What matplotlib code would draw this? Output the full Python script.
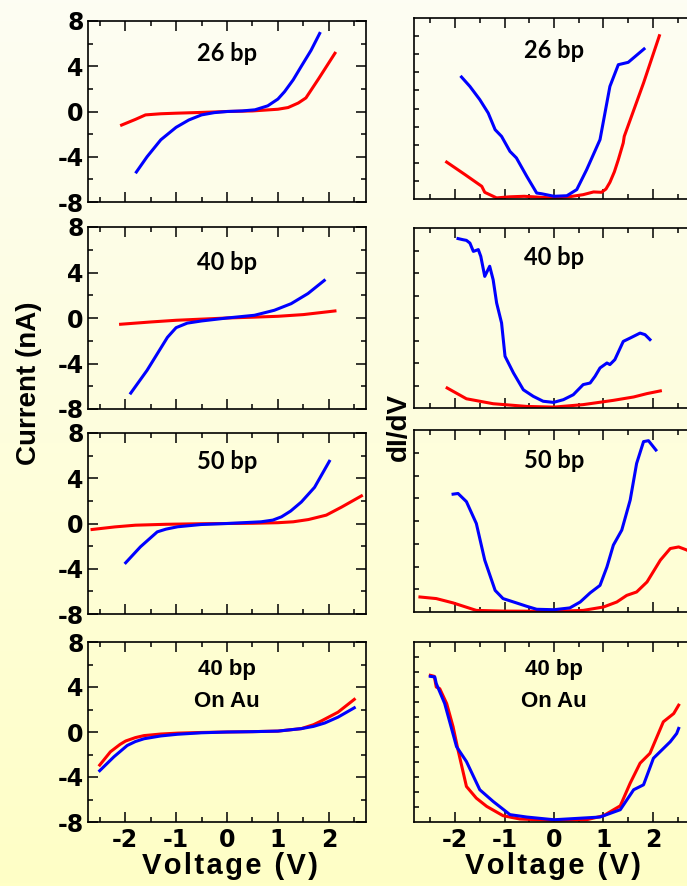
import numpy as np
import matplotlib.pyplot as plt
from matplotlib.ticker import MultipleLocator

plt.rcParams['font.family'] = ['Liberation Sans', 'DejaVu Sans']
plt.rcParams['font.weight'] = 'bold'
plt.rcParams['axes.unicode_minus'] = False

# ---- I-V curves (Current, nA) ----
iv26_red_v = [-2.07, -1.8, -1.6, -1.3, -1.0, -0.5, 0, 0.5, 1.0, 1.2, 1.4, 1.55, 1.8, 2.12]
iv26_red_i = [-1.2, -0.7, -0.3, -0.2, -0.15, -0.08, 0, 0.05, 0.2, 0.35, 0.75, 1.2, 2.9, 5.15]
iv26_blue_v = [-1.78, -1.57, -1.3, -1.0, -0.75, -0.5, -0.25, 0, 0.3, 0.55, 0.8, 1.0, 1.13, 1.3, 1.46, 1.65, 1.82]
iv26_blue_i = [-5.35, -4.0, -2.5, -1.4, -0.75, -0.3, -0.1, 0, 0.05, 0.15, 0.5, 1.1, 1.75, 2.8, 4.0, 5.4, 6.9]

iv40_red_v = [-2.09, -1.5, -1.0, -0.5, 0, 0.5, 1.0, 1.5, 2.12]
iv40_red_i = [-0.55, -0.35, -0.2, -0.1, 0, 0.07, 0.15, 0.3, 0.62]
iv40_blue_v = [-1.89, -1.57, -1.37, -1.17, -1.0, -0.78, -0.5, 0, 0.54, 0.93, 1.26, 1.59, 1.91]
iv40_blue_i = [-6.6, -4.6, -3.15, -1.7, -0.85, -0.45, -0.26, 0, 0.24, 0.68, 1.26, 2.15, 3.3]

iv50_red_v = [-2.65, -2.2, -1.8, -1.2, -0.5, 0, 0.5, 1.0, 1.3, 1.6, 1.95, 2.25, 2.64]
iv50_red_i = [-0.53, -0.3, -0.15, -0.07, -0.02, 0, 0.02, 0.07, 0.15, 0.35, 0.74, 1.45, 2.44]
iv50_blue_v = [-1.99, -1.7, -1.37, -1.2, -0.97, -0.51, 0, 0.67, 0.9, 1.07, 1.25, 1.46, 1.72, 2.01]
iv50_blue_i = [-3.47, -2.06, -0.74, -0.5, -0.29, -0.09, 0, 0.15, 0.3, 0.59, 1.1, 1.9, 3.2, 5.5]

ivau_red_v = [-2.5, -2.29, -2.1, -1.99, -1.8, -1.63, -1.3, -0.97, -0.5, 0, 0.5, 1.0, 1.46, 1.7, 1.86, 2.18, 2.5]
ivau_red_i = [-2.94, -1.76, -1.1, -0.8, -0.5, -0.32, -0.18, -0.1, -0.04, 0, 0.03, 0.08, 0.3, 0.65, 1.0, 1.76, 2.9]
ivau_blue_v = [-2.5, -2.22, -1.96, -1.8, -1.63, -1.3, -0.97, -0.5, 0, 0.5, 1.0, 1.46, 1.7, 1.92, 2.18, 2.5]
ivau_blue_i = [-3.44, -2.2, -1.2, -0.85, -0.6, -0.35, -0.2, -0.07, 0, 0.03, 0.08, 0.3, 0.5, 0.8, 1.32, 2.15]

# ---- dI/dV curves (arbitrary units) ----
di26_blue_v = [-1.87, -1.70, -1.50, -1.33, -1.19, -1.06, -0.89, -0.76, -0.55, -0.35, -0.25, 0, 0.26, 0.46,
               0.66, 0.93, 1.13, 1.30, 1.50, 1.82]
di26_blue_y = [6.74, 6.22, 5.49, 4.75, 3.83, 3.46, 2.63, 2.27, 1.25, 0.33, 0.29, 0.15, 0.18, 0.52,
               1.62, 3.28, 6.22, 7.42, 7.55, 8.29]
di26_red_v = [-2.17, -1.8, -1.46, -1.40, -1.16, -0.9, -0.6, -0.3, 0, 0.3, 0.59, 0.80, 0.96, 1.05,
              1.13, 1.22, 1.30, 1.40, 1.42, 1.81, 2.13]
di26_red_y = [2.04, 1.35, 0.7, 0.37, 0.06, 0.12, 0.15, 0.1, 0.05, 0.12, 0.24, 0.39, 0.37, 0.55,
              0.92, 1.5, 2.17, 3.1, 3.46, 6.41, 9.02]

di40_blue_v = [-1.94, -1.84, -1.77, -1.70, -1.63, -1.53, -1.48, -1.40, -1.30, -1.23, -1.16, -1.06, -0.99,
               -0.82, -0.62, -0.42, -0.22, -0.01, 0.19, 0.39, 0.59, 0.73, 0.83, 0.93, 1.07, 1.13, 1.23,
               1.40, 1.54, 1.74, 1.84, 1.94]
di40_blue_y = [7.53, 7.48, 7.45, 7.33, 6.96, 7.04, 6.74, 5.85, 6.3, 5.7, 4.67, 3.78, 2.3,
               1.56, 0.81, 0.52, 0.3, 0.25, 0.37, 0.59, 1.04, 1.11, 1.41, 1.78, 2.0, 1.93, 2.15,
               2.96, 3.11, 3.33, 3.26, 3.04]
di40_red_v = [-2.16, -1.77, -1.23, -0.55, 0, 0.59, 1.2, 1.61, 1.88, 2.15]
di40_red_y = [0.89, 0.41, 0.19, 0.07, 0.04, 0.15, 0.34, 0.49, 0.64, 0.76]

di50_blue_v = [-2.04, -1.94, -1.77, -1.57, -1.40, -1.19, -1.03, -0.76, -0.55, -0.35, 0, 0.32, 0.53,
               0.73, 0.93, 1.07, 1.20, 1.37, 1.54, 1.67, 1.81, 1.91, 2.06]
di50_blue_y = [5.18, 5.21, 4.85, 3.89, 2.28, 0.95, 0.59, 0.40, 0.25, 0.12, 0.1, 0.18, 0.44,
               0.84, 1.17, 1.98, 2.94, 3.6, 4.92, 6.53, 7.49, 7.53, 7.12]
di50_red_v = [-2.71, -2.38, -2.04, -1.57, -1.03, 0, 0.59, 1.0, 1.27, 1.47, 1.67, 1.88, 2.15, 2.35,
              2.52, 2.69, 2.85]
di50_red_y = [0.66, 0.59, 0.40, 0.07, 0.04, 0.03, 0.07, 0.22, 0.44, 0.73, 0.88, 1.32, 2.28, 2.79,
              2.86, 2.72, 2.45]

diau_red_v = [-2.50, -2.42, -2.38, -2.31, -2.17, -2.04, -1.94, -1.77, -1.57, -1.36, -1.03, -0.69, 0,
              0.66, 1.0, 1.34, 1.54, 1.74, 1.94, 2.21, 2.42, 2.52]
diau_red_y = [9.78, 9.71, 9.0, 8.89, 7.9, 6.35, 4.8, 2.37, 1.59, 1.04, 0.42, 0.2, 0.11,
              0.15, 0.42, 1.08, 2.59, 3.92, 4.58, 6.68, 7.23, 7.79]
diau_blue_v = [-2.50, -2.41, -2.38, -2.21, -1.97, -1.77, -1.50, -1.23, -0.89, -0.55, 0, 0.93, 1.34,
               1.61, 1.81, 2.01, 2.35, 2.48, 2.52]
diau_blue_y = [9.71, 9.67, 9.23, 7.9, 5.02, 4.03, 2.15, 1.37, 0.49, 0.33, 0.15, 0.33, 0.82,
               2.15, 2.48, 4.25, 5.35, 5.9, 6.24]

iv_sets = [
    (iv26_red_v, iv26_red_i, iv26_blue_v, iv26_blue_i, ["26 bp"]),
    (iv40_red_v, iv40_red_i, iv40_blue_v, iv40_blue_i, ["40 bp"]),
    (iv50_red_v, iv50_red_i, iv50_blue_v, iv50_blue_i, ["50 bp"]),
    (ivau_red_v, ivau_red_i, ivau_blue_v, ivau_blue_i, ["40 bp", "On Au"]),
]
di_sets = [
    (di26_red_v, di26_red_y, di26_blue_v, di26_blue_y, ["26 bp"], 10),
    (di40_red_v, di40_red_y, di40_blue_v, di40_blue_y, ["40 bp"], 8),
    (di50_red_v, di50_red_y, di50_blue_v, di50_blue_y, ["50 bp"], 8),
    (diau_red_v, diau_red_y, diau_blue_v, diau_blue_y, ["40 bp", "On Au"], 12),
]

W, H = 687, 886
fig = plt.figure(figsize=(W / 100, H / 100), dpi=100)

# yellowish vertical gradient background
bg = fig.add_axes([0, 0, 1, 1], zorder=-10)
top_c = np.array([253, 253, 243]) / 255
bot_c = np.array([255, 255, 198]) / 255
grad = top_c + np.linspace(0, 1, 256)[:, None] * (bot_c - top_c)
bg.imshow(grad[:, None, :], aspect='auto', extent=[0, 1, 0, 1])
bg.axis('off')


def px_axes(x0, x1, y0, y1):
    return fig.add_axes([x0 / W, 1 - y1 / H, (x1 - x0) / W, (y1 - y0) / H])


def bold_ticklabels(ax, size):
    for lab in ax.get_xticklabels() + ax.get_yticklabels():
        lab.set_family(['DejaVu Sans'])
        lab.set_fontweight('bold')
        lab.set_fontsize(size)


RED, BLUE = "#ff0000", "#0000ff"
LW = 2.2

left_boxes = [(21, 202), (227, 409), (433, 614), (642, 822)]
right_boxes = [(18, 199), (228, 408), (430, 612), (642, 822)]
left_label_y = [[0.818], [0.807], [0.845], [0.845, 0.668]]
right_label_y = [[0.823], [0.834], [0.834], [0.85, 0.667]]

for k, (rv, ri, bv, bi, labels) in enumerate(iv_sets):
    y0, y1 = left_boxes[k]
    ax = px_axes(88, 366, y0, y1)
    ax.set_facecolor("none")
    ax.plot(rv, ri, color=RED, lw=LW)
    ax.plot(bv, bi, color=BLUE, lw=LW)
    ax.set_xlim(-2.73, 2.73)
    ax.set_ylim(-8, 8)
    ax.set_yticks([-8, -4, 0, 4, 8])
    ax.yaxis.set_minor_locator(MultipleLocator(2))
    ax.xaxis.set_major_locator(MultipleLocator(1))
    ax.xaxis.set_minor_locator(MultipleLocator(0.5))
    ax.tick_params(which='both', direction='in', top=True, right=True, width=1.1)
    ax.tick_params(which='major', length=7)
    ax.tick_params(which='minor', length=3.5)
    ax.tick_params(axis='y', pad=3)
    ax.tick_params(axis='x', pad=4, labelbottom=(k == 3))
    bold_ticklabels(ax, 17)
    for s in ax.spines.values():
        s.set_linewidth(1.2)
    if k == 3:
        fam = ['Liberation Sans', 'DejaVu Sans']
        fs = 16
    else:
        fam = ['Lato', 'DejaVu Sans']
        fs = 17
    for txt, yy in zip(labels, left_label_y[k]):
        ax.text(0, yy, txt, transform=ax.get_xaxis_transform(), ha='center', va='center',
                fontsize=fs, fontweight='bold', family=fam)

for k, (rv, ry, bv, by, labels, ny) in enumerate(di_sets):
    y0, y1 = right_boxes[k]
    ax = px_axes(414, 694, y0, y1)
    ax.set_facecolor("none")
    ax.plot(rv, ry, color=RED, lw=LW)
    ax.plot(bv, by, color=BLUE, lw=LW)
    ax.set_xlim(-2.83, 2.83)
    ax.set_ylim(0, ny)
    ax.set_yticks(np.arange(1, ny))
    ax.xaxis.set_major_locator(MultipleLocator(1))
    ax.xaxis.set_minor_locator(MultipleLocator(0.5))
    ax.tick_params(which='both', direction='in', top=True, width=1.1)
    ax.tick_params(axis='x', which='major', length=7)
    ax.tick_params(axis='x', which='minor', length=3.5)
    ax.tick_params(axis='y', length=3.5, labelleft=False)
    ax.tick_params(axis='x', pad=4, labelbottom=(k == 3))
    bold_ticklabels(ax, 17)
    for s in ax.spines.values():
        s.set_linewidth(1.2)
    if k == 3:
        fam = ['Liberation Sans', 'DejaVu Sans']
        fs = 16
    else:
        fam = ['Lato', 'DejaVu Sans']
        fs = 17
    for txt, yy in zip(labels, right_label_y[k]):
        ax.text(0, yy, txt, transform=ax.get_xaxis_transform(), ha='center', va='center',
                fontsize=fs, fontweight='bold', family=fam)

# axis titles (letter-spaced voltage label)
hs = "\u200a"
volt = hs.join("Voltage") + " " + hs + hs + "(" + hs + "V" + hs + ")"
fig.text(29 / W, 1 - 383 / H, "Current (nA)", rotation=90, ha='center', va='center',
         fontsize=20, fontweight='bold')
fig.text(399 / W, 1 - 427 / H, "dI/dV", rotation=90, ha='center', va='center',
         fontsize=20, fontweight='bold')
fig.text(230 / W, 1 - 866 / H, volt, ha='center', va='center', fontsize=21, fontweight='bold')
fig.text(553 / W, 1 - 866 / H, volt, ha='center', va='center', fontsize=21, fontweight='bold')

fig.savefig("out.png", dpi=100)
